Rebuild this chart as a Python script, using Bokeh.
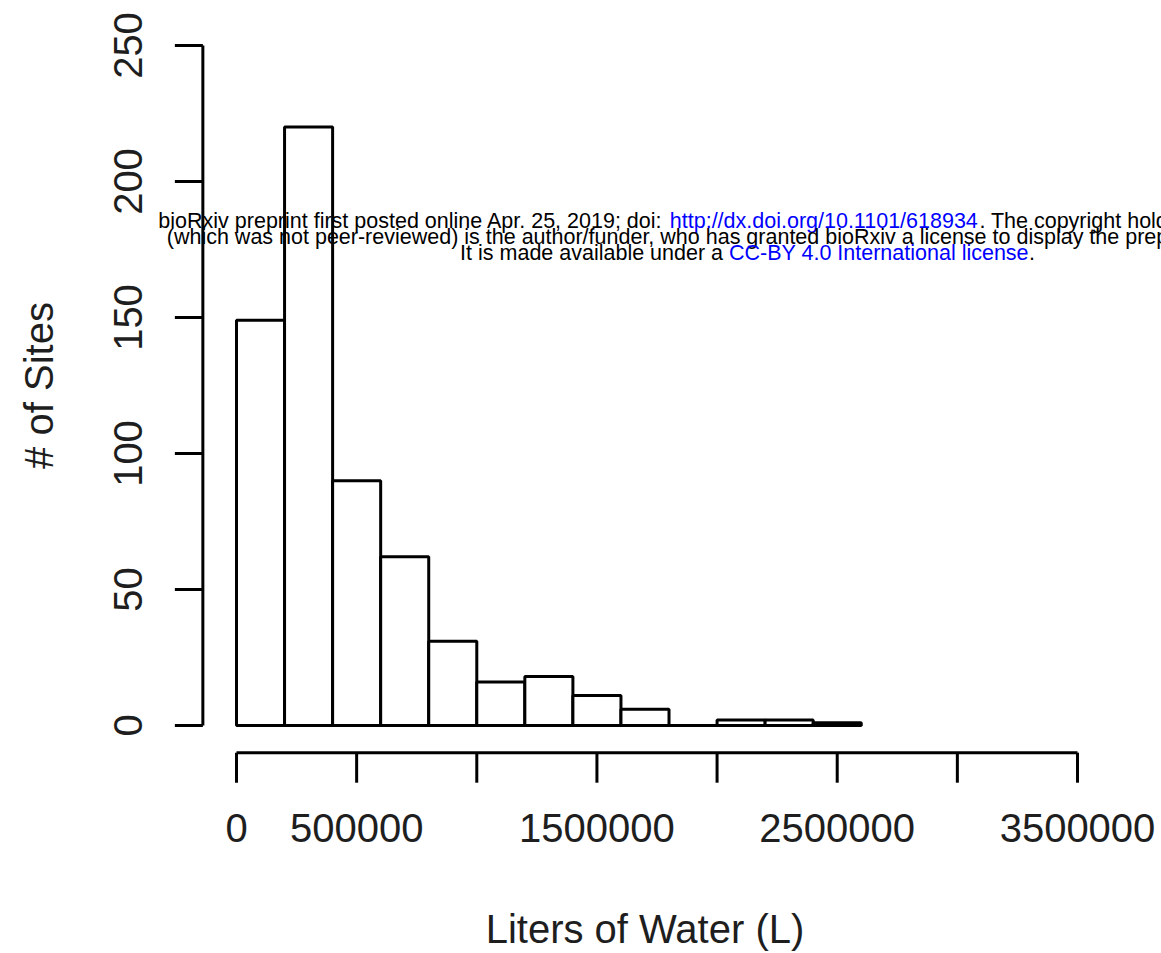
import math
from bokeh.plotting import figure
from bokeh.models import Range1d, Label
from bokeh.core.properties import value
from bokeh.embed import file_html
from bokeh.resources import INLINE

# Histogram of water volume per site (200,000 L bins)
bin_edges = [0, 200000, 400000, 600000, 800000, 1000000, 1200000,
             1400000, 1600000, 1800000, 2000000, 2200000, 2400000, 2600000]
site_counts = [149, 220, 90, 62, 31, 16, 18, 11, 6, 0, 2, 2, 1]

x_ticks = [0, 500000, 1000000, 1500000, 2000000, 2500000, 3000000, 3500000]
x_tick_labels = ["0", "500000", "", "1500000", "", "2500000", "", "3500000"]
y_ticks = [0, 50, 100, 150, 200, 250]
y_tick_labels = ["0", "50", "100", "150", "200", "250"]

x_title = "Liters of Water (L)"
y_title = "# of Sites"

W, H = 1161, 953
FONT = "Liberation Sans"
INK = "#1e1e1e"

# plot scale: 841 px per 3.5e6 L, 2.72 px per site; origin at (236, 725)
PX_X = 841 / 3500000.0
PX_Y = 2.72
ORIGIN = (236, 725)

x_start = -ORIGIN[0] / PX_X
x_end = (W - ORIGIN[0]) / PX_X
y_start = -(H - ORIGIN[1]) / PX_Y
y_end = ORIGIN[1] / PX_Y

p = figure(width=W, height=H, output_backend="svg", toolbar_location=None,
           x_range=Range1d(x_start, x_end), y_range=Range1d(y_start, y_end),
           min_border=0)
p.xaxis.visible = False
p.yaxis.visible = False
p.outline_line_color = None
p.grid.visible = False
p.background_fill_color = "white"
p.border_fill_color = "white"

p.quad(left=bin_edges[:-1], right=bin_edges[1:], bottom=0, top=site_counts,
       fill_color="white", line_color="black", line_width=3)

# R-style axes, detached by 4% of the axis span
x_lim = (x_ticks[0], x_ticks[-1])
y_lim = (y_ticks[0], y_ticks[-1])
axis_x = x_lim[0] - 0.04 * (x_lim[1] - x_lim[0])   # where the y axis sits
axis_y = y_lim[0] - 0.04 * (y_lim[1] - y_lim[0])   # where the x axis sits
tick_x_len = 30 / PX_Y
tick_y_len = 28 / PX_X

# x axis
p.segment(x0=[x_lim[0]], y0=[axis_y], x1=[x_lim[1]], y1=[axis_y],
          line_color="black", line_width=3)
p.segment(x0=x_ticks, y0=[axis_y] * len(x_ticks), x1=x_ticks,
          y1=[axis_y - tick_x_len] * len(x_ticks),
          line_color="black", line_width=3)
shown = [(t, s) for t, s in zip(x_ticks, x_tick_labels) if s]
p.text(x=[t for t, _ in shown], y=[axis_y - 75 / PX_Y] * len(shown),
       text=[s for _, s in shown], text_font=value(FONT),
       text_font_size="40px", text_color=INK,
       text_align="center", text_baseline="middle")

# y axis
p.segment(x0=[axis_x], y0=[y_lim[0]], x1=[axis_x], y1=[y_lim[1]],
          line_color="black", line_width=3)
p.segment(x0=[axis_x] * len(y_ticks), y0=y_ticks,
          x1=[axis_x - tick_y_len] * len(y_ticks), y1=y_ticks,
          line_color="black", line_width=3)
p.text(x=[axis_x - 75 / PX_X] * len(y_ticks), y=y_ticks, text=y_tick_labels,
       angle=math.pi / 2, text_font=value(FONT), text_font_size="40px",
       text_color=INK, text_align="center", text_baseline="middle")

# axis titles
p.text(x=[1700000], y=[axis_y - 176 / PX_Y], text=[x_title],
       text_font=value(FONT), text_font_size="40px", text_color=INK,
       text_align="center", text_baseline="middle")
p.text(x=[axis_x - 164 / PX_X], y=[sum(y_lim) / 2], text=[y_title],
       angle=math.pi / 2, text_font=value(FONT), text_font_size="40px",
       text_color=INK, text_align="center", text_baseline="middle")

# preprint notice across the top of the page
HELV = {' ': 278, '(': 333, ')': 333, ',': 278, '-': 333, '.': 278, '/': 278,
        ':': 278, ';': 278, 'A': 667, 'B': 667, 'C': 722, 'I': 278, 'R': 722,
        'T': 611, 'Y': 667, 'a': 556, 'b': 556, 'c': 500, 'd': 556, 'e': 556,
        'f': 278, 'g': 556, 'h': 556, 'i': 222, 'k': 500, 'l': 222, 'm': 833,
        'n': 556, 'o': 556, 'p': 556, 'r': 333, 's': 500, 't': 278, 'u': 556,
        'v': 500, 'w': 722, 'x': 500, 'y': 500}

NOTE_SIZE = 21.5
NOTE_CENTER = 747
BLUE = "#0000ff"
notice = [
    (220, [("bioRxiv preprint first posted online Apr. 25, 2019; doi: ", "black"),
           ("http://dx.doi.org/10.1101/618934", BLUE),
           (". The copyright holder for this preprint", "black")]),
    (236, [("(which was not peer-reviewed) is the author/funder, who has granted "
            "bioRxiv a license to display the preprint in perpetuity.", "black")]),
    (252, [("It is made available under a ", "black"),
           ("CC-BY 4.0 International license", BLUE),
           (".", "black")]),
]


def text_px(s):
    return sum(HELV.get(c, 556) for c in s) * NOTE_SIZE / 1000.0


for py, parts in notice:
    total = sum(text_px(s) for s, _ in parts)
    cursor = NOTE_CENTER - total / 2
    for s, col in parts:
        p.add_layout(Label(x=(cursor - ORIGIN[0]) / PX_X,
                           y=(ORIGIN[1] - py) / PX_Y, text=s,
                           text_font=FONT, text_font_size=f"{NOTE_SIZE}px",
                           text_color=col, text_align="left",
                           text_baseline="middle"))
        cursor += text_px(s)

open("out.html", "w").write(file_html(p, INLINE))
